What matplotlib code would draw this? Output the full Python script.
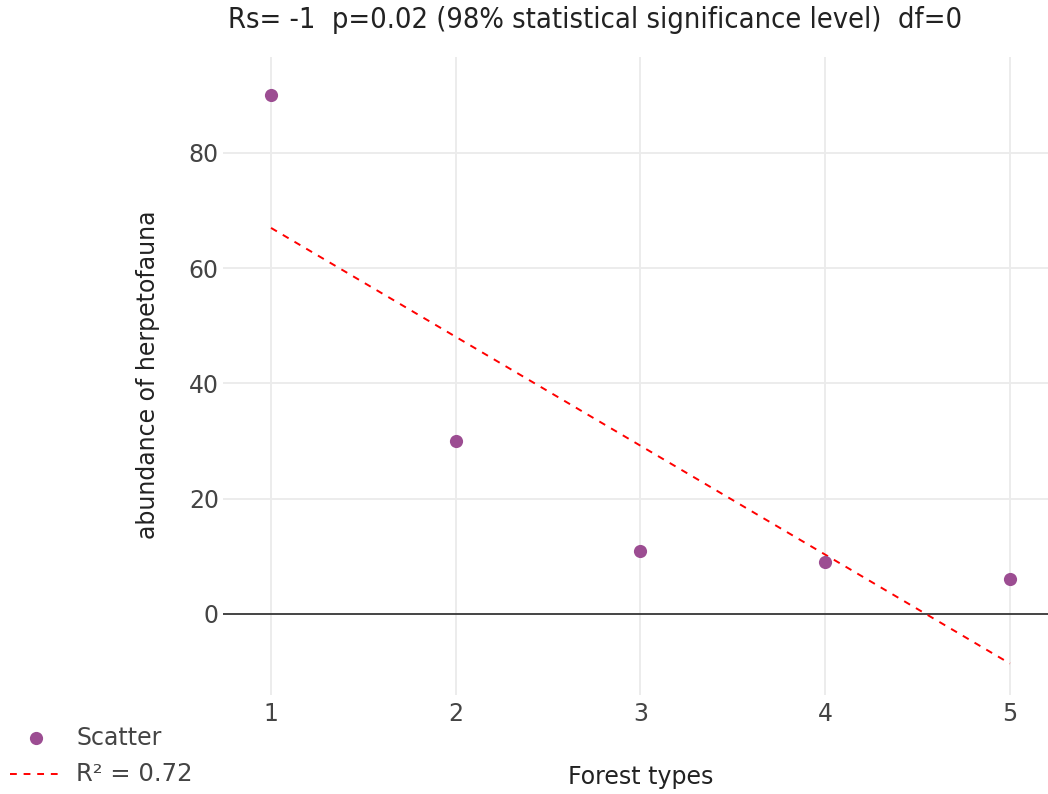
import numpy as np
import matplotlib
matplotlib.use("Agg")
import matplotlib.pyplot as plt
from matplotlib.lines import Line2D

plt.rcParams['font.family'] = ['DejaVu Sans']

forest_types = [1, 2, 3, 4, 5]
abundance = [90, 30, 11, 9, 6]
x_ticks = [1, 2, 3, 4, 5]
y_ticks = [0, 20, 40, 60, 80]
title = "Rs= -1  p=0.02 (98% statistical significance level)  df=0"
r2_label = "R\u00b2 = 0.72"

W, H = 1048, 794
fig = plt.figure(figsize=(W / 100, H / 100), dpi=100)
ax = fig.add_axes([223 / W, (H - 695) / H, (1048 - 223) / W, (695 - 57) / H])

text_color = '#444444'
marker_color = '#9c4d92'

# regression trendline
coef = np.polyfit(forest_types, abundance, 1)
xs = np.array([min(forest_types), max(forest_types)])
ys = np.polyval(coef, xs)

ax.set_xlim(0.74, 5.206)
ax.set_ylim(-14.06, 96.66)

for t in x_ticks:
    ax.axvline(t, color='#ebebeb', lw=1.3, zorder=0)
for t in y_ticks:
    if t != 0:
        ax.axhline(t, color='#ebebeb', lw=1.3, zorder=0)
ax.axhline(0, color='#444444', lw=1.4, zorder=1)

ax.scatter(forest_types, abundance, s=90, color=marker_color, zorder=3, linewidths=0)
ax.plot(xs, ys, color='red', lw=1.4, dashes=(3.5, 3.5), zorder=2)

for s in ax.spines.values():
    s.set_visible(False)
ax.set_xticks(x_ticks)
ax.set_yticks(y_ticks)
ax.tick_params(length=0, labelsize=17, colors=text_color, pad=5)
ax.tick_params(axis='y', pad=3)

fig.text(148 / W, 1 - 375 / H, "abundance of herpetofauna", rotation=90,
         ha='center', va='center', fontsize=17, color='#222222')
fig.text(641 / W, 1 - 777 / H, "Forest types", ha='center', va='center',
         fontsize=17, color='#222222')
fig.text(595 / W, 1 - 20 / H, title, ha='center', va='center',
         fontsize=20.8, fontstretch='condensed', color='#222222')

# legend
fig.lines.append(Line2D([36 / W], [1 - 738 / H], marker='o', markersize=9.5,
                        color=marker_color, markeredgewidth=0,
                        transform=fig.transFigure))
fig.text(76 / W, 1 - 738 / H, "Scatter", ha='left', va='center',
         fontsize=17, color=text_color)
fig.lines.append(Line2D([10 / W, 60 / W], [1 - 774 / H, 1 - 774 / H],
                        color='red', lw=1.4, dashes=(3.5, 3.5),
                        transform=fig.transFigure))
fig.text(76 / W, 1 - 774 / H, r2_label, ha='left', va='center',
         fontsize=17.5, color=text_color)

fig.savefig("out.png", dpi=100)
